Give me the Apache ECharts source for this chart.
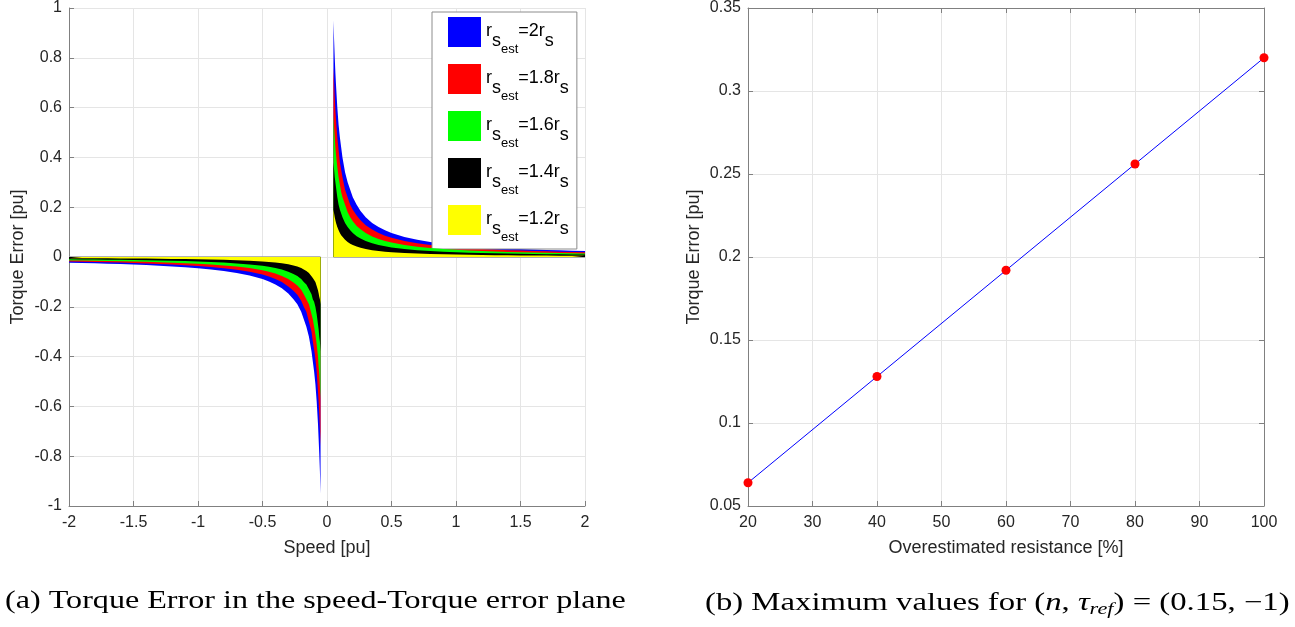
<!DOCTYPE html>
<html>
<head>
<meta charset="utf-8">
<script src="https://cdn.jsdelivr.net/npm/echarts@6/dist/echarts.min.js"></script>
<style>
html,body{margin:0;padding:0;background:#fff;}
#chart{width:1295px;height:627px;}
</style>
</head>
<body>
<div id="chart"></div>
<script>
// ---- data: left panel (speed vs torque error) ----
var speedPos = [0.05,0.055,0.06,0.065,0.07,0.08,0.09,0.1,0.11,0.12,0.14,0.16,0.18,0.2,0.23,0.26,0.3,0.35,0.4,0.45,0.5,0.6,0.7,0.8,0.9,1.0,1.1,1.2,1.3,1.4,1.5,1.6,1.7,1.8,1.9,2.0];
var speedNeg = [-0.05,-0.055,-0.06,-0.065,-0.07,-0.08,-0.09,-0.1,-0.11,-0.12,-0.14,-0.16,-0.18,-0.2,-0.23,-0.26,-0.3,-0.35,-0.4,-0.45,-0.5,-0.6,-0.7,-0.8,-0.9,-1.0,-1.1,-1.2,-1.3,-1.4,-1.5,-1.6,-1.7,-1.8,-1.9,-2.0];

var blueP   = [0.95,0.87,0.80,0.74,0.69,0.60,0.53,0.48,0.44,0.40,0.34,0.30,0.27,0.24,0.21,0.185,0.16,0.137,0.12,0.107,0.096,0.08,0.069,0.06,0.053,0.048,0.044,0.04,0.037,0.034,0.032,0.03,0.028,0.027,0.025,0.024];
var redP    = [0.76,0.70,0.64,0.59,0.55,0.48,0.43,0.38,0.35,0.32,0.27,0.24,0.21,0.19,0.167,0.148,0.128,0.11,0.096,0.085,0.077,0.064,0.055,0.048,0.043,0.038,0.035,0.032,0.03,0.027,0.026,0.024,0.023,0.021,0.02,0.019];
var greenP  = [0.57,0.52,0.48,0.44,0.41,0.36,0.32,0.29,0.26,0.24,0.21,0.18,0.16,0.144,0.125,0.111,0.096,0.082,0.072,0.064,0.058,0.048,0.041,0.036,0.032,0.029,0.026,0.024,0.022,0.02,0.019,0.018,0.017,0.016,0.015,0.014];
var blackP  = [0.38,0.35,0.32,0.30,0.28,0.24,0.21,0.19,0.175,0.16,0.137,0.12,0.107,0.096,0.083,0.074,0.064,0.055,0.048,0.043,0.038,0.032,0.027,0.024,0.021,0.019,0.017,0.016,0.015,0.014,0.013,0.012,0.011,0.011,0.01,0.0096];
var yellowP = [0.19,0.175,0.16,0.148,0.137,0.12,0.107,0.096,0.087,0.08,0.069,0.06,0.053,0.048,0.042,0.037,0.032,0.027,0.024,0.021,0.019,0.016,0.014,0.012,0.011,0.0096,0.0087,0.008,0.0074,0.0069,0.0064,0.006,0.0056,0.0053,0.005,0.0048];

var blueN   = [-0.95,-0.86,-0.79,-0.73,-0.67,-0.58,-0.51,-0.46,-0.42,-0.38,-0.32,-0.28,-0.25,-0.22,-0.19,-0.17,-0.147,-0.126,-0.11,-0.098,-0.088,-0.074,-0.064,-0.056,-0.05,-0.045,-0.041,-0.038,-0.035,-0.032,-0.03,-0.028,-0.027,-0.025,-0.024,-0.023];
var redN    = [-0.76,-0.69,-0.63,-0.58,-0.54,-0.46,-0.41,-0.37,-0.34,-0.30,-0.26,-0.22,-0.2,-0.176,-0.152,-0.136,-0.118,-0.1,-0.088,-0.078,-0.07,-0.059,-0.051,-0.045,-0.04,-0.036,-0.033,-0.03,-0.028,-0.026,-0.024,-0.022,-0.021,-0.02,-0.019,-0.018];
var greenN  = [-0.57,-0.52,-0.47,-0.44,-0.40,-0.35,-0.31,-0.28,-0.25,-0.23,-0.19,-0.17,-0.15,-0.132,-0.114,-0.102,-0.088,-0.076,-0.066,-0.059,-0.053,-0.044,-0.038,-0.034,-0.03,-0.027,-0.025,-0.023,-0.021,-0.019,-0.018,-0.017,-0.016,-0.015,-0.014,-0.014];
var blackN  = [-0.38,-0.34,-0.32,-0.29,-0.27,-0.23,-0.2,-0.18,-0.17,-0.15,-0.13,-0.11,-0.1,-0.088,-0.076,-0.068,-0.059,-0.05,-0.044,-0.039,-0.035,-0.03,-0.026,-0.022,-0.02,-0.018,-0.016,-0.015,-0.014,-0.013,-0.012,-0.011,-0.011,-0.01,-0.0096,-0.0092];
var yellowN = [-0.19,-0.17,-0.16,-0.146,-0.134,-0.116,-0.1,-0.092,-0.084,-0.076,-0.064,-0.056,-0.05,-0.044,-0.038,-0.034,-0.029,-0.025,-0.022,-0.02,-0.018,-0.015,-0.013,-0.011,-0.01,-0.009,-0.008,-0.0076,-0.007,-0.0064,-0.006,-0.0056,-0.0054,-0.005,-0.0048,-0.0046];

var legendNames = ['rs_est=2rs','rs_est=1.8rs','rs_est=1.6rs','rs_est=1.4rs','rs_est=1.2rs'];
var legendFactors = ['2','1.8','1.6','1.4','1.2'];
var fillColors = ['#0000ff','#ff0000','#00ff00','#000000','#ffff00'];

// ---- data: right panel ----
var resistance = [20,40,60,80,100];
var maxError = [0.064,0.128,0.192,0.256,0.32];

// ---- build ----
var TXT = '#262626', AX = '#808080', GRID = '#e5e5e5';
var FONT = 'Liberation Sans, Arial, sans-serif';
function pairs(xs, ys){ return xs.map(function(x,i){ return [x, ys[i]]; }); }
var posSets = [blueP, redP, greenP, blackP, yellowP];
var negSets = [blueN, redN, greenN, blackN, yellowN];

var series = [];
series.push({type:'line', xAxisIndex:0, yAxisIndex:0, data:[[speedNeg[35],0],[speedNeg[0],0]], showSymbol:false, silent:true,
  lineStyle:{color:'#9a9a9a', width:1.5}, z:1});
series.push({type:'line', xAxisIndex:0, yAxisIndex:0, data:[[speedPos[0],0],[speedPos[35],0]], showSymbol:false, silent:true,
  lineStyle:{color:'#9a9a9a', width:1.5}, z:1});
for (var k=0;k<5;k++){
  [posSets[k], negSets[k]].forEach(function(vals, j){
    series.push({
      name: legendNames[k], type:'line', xAxisIndex:0, yAxisIndex:0,
      data: pairs(j===0?speedPos:speedNeg, vals),
      showSymbol:false, smooth:false, silent:true,
      color: fillColors[k],
      itemStyle:{color: fillColors[k]},
      lineStyle:{width:0, color: fillColors[k]},
      areaStyle:{color: fillColors[k], opacity:1},
      z: 2 + k
    });
  });
}
series.push({
  name:'max', type:'line', xAxisIndex:1, yAxisIndex:1,
  data: pairs(resistance, maxError),
  symbol:'circle', symbolSize:9,
  lineStyle:{color:'#0000ff', width:1},
  itemStyle:{color:'#ff0000', borderWidth:0},
  z:5
});

function axisCommon(){
  return {
    axisLine:{show:true, onZero:false, lineStyle:{color:AX, width:1}},
    axisTick:{show:true, inside:true, length:5, lineStyle:{color:AX}},
    axisLabel:{color:TXT, fontFamily:FONT, fontSize:16},
    splitLine:{show:true, lineStyle:{color:GRID, width:1}},
    nameTextStyle:{color:TXT, fontFamily:FONT, fontSize:18}
  };
}
function mk(extra){ var o = axisCommon(); for (var key in extra){ o[key]=extra[key]; } return o; }

var option = {
  animation:false,
  backgroundColor:'#ffffff',
  grid:[
    {left:69, top:6, width:516, height:500},
    {left:748, top:6, width:516, height:500}
  ],
  xAxis:[
    mk({type:'value', gridIndex:0, min:-2, max:2, interval:0.5, position:'bottom',
      name:'Speed [pu]', nameLocation:'middle', nameGap:33,
      axisLabel:{color:TXT, fontFamily:FONT, fontSize:16, margin:9, formatter:function(v){return String(Math.round(v*10)/10);}}}),
    mk({type:'value', gridIndex:1, min:20, max:100, interval:10, position:'bottom',
      name:'Overestimated resistance [%]', nameLocation:'middle', nameGap:33,
      axisLabel:{color:TXT, fontFamily:FONT, fontSize:16, margin:9}}),
    {type:'value', gridIndex:1, min:20, max:100, interval:10, position:'top',
      axisLine:{show:true, onZero:false, lineStyle:{color:AX}}, axisTick:{show:true, inside:true, length:5, lineStyle:{color:AX}},
      axisLabel:{show:false}, splitLine:{show:false}}
  ],
  yAxis:[
    mk({type:'value', gridIndex:0, min:-1, max:1, interval:0.2,
      name:'Torque Error [pu]', nameLocation:'middle', nameGap:42,
      axisLabel:{color:TXT, fontFamily:FONT, fontSize:16, margin:7, formatter:function(v){return String(Math.round(v*10)/10);}}}),
    mk({type:'value', gridIndex:1, min:0.05, max:0.35, interval:0.05,
      name:'Torque Error [pu]', nameLocation:'middle', nameGap:45,
      axisLabel:{color:TXT, fontFamily:FONT, fontSize:16, margin:7, formatter:function(v){return String(Math.round(v*100)/100);}}}),
    {type:'value', gridIndex:1, min:0.05, max:0.35, interval:0.05, position:'right',
      axisLine:{show:true, onZero:false, lineStyle:{color:AX}}, axisTick:{show:true, inside:true, length:5, lineStyle:{color:AX}},
      axisLabel:{show:false}, splitLine:{show:false}}
  ],
  legend:{
    orient:'vertical', left:432, top:12,
    data: legendNames.map(function(n,i){ return {name:n, icon:'rect', itemStyle:{color:fillColors[i]}}; }),
    itemWidth:33, itemHeight:30, itemGap:8,
    padding:[5,8,5,16],
    backgroundColor:'#ffffff', borderColor:'#8c8c8c', borderWidth:1,
    selectedMode:false,
    formatter:function(name){
      var f = legendFactors[legendNames.indexOf(name)];
      return '{r|r}{s|s}{e|est}{n|=' + f + 'r}{s|s}';
    },
    textStyle:{
      color:'#000', fontFamily:FONT, fontSize:18,
      rich:{
        r:{fontFamily:FONT, fontSize:18, color:'#000', verticalAlign:'top', lineHeight:20, padding:[0,0,0,0]},
        s:{fontFamily:FONT, fontSize:18, color:'#000', verticalAlign:'top', lineHeight:20, padding:[10,0,0,0]},
        e:{fontFamily:FONT, fontSize:13, color:'#000', verticalAlign:'top', lineHeight:15, padding:[21,0,0,0]},
        n:{fontFamily:FONT, fontSize:18, color:'#000', verticalAlign:'top', lineHeight:20, padding:[0,0,0,0]}
      }
    }
  },
  graphic:[
    {type:'text', x:5, y:589, scaleX:1.285, scaleY:1, style:{
      text:'(a) Torque Error in the speed-Torque error plane',
      font:'25px "Liberation Serif", serif', fill:'#000', verticalAlign:'top'}},
    {type:'text', x:705, y:589, scaleX:1.31, scaleY:1, style:{
      text:'(b) Maximum values for ({i|n}, {i|τ}{sub|ref}) = (0.15, −1)',
      font:'25px "Liberation Serif", serif', fill:'#000', verticalAlign:'top',
      rich:{
        i:{font:'italic 25px "Liberation Serif", serif', fill:'#000'},
        sub:{font:'italic 17px "Liberation Serif", serif', fill:'#000', padding:[12,0,0,0]}
      }}}
  ],
  series: series
};

var chart = echarts.init(document.getElementById('chart'), null, {renderer:'canvas'});
chart.setOption(option);
</script>
</body>
</html>
